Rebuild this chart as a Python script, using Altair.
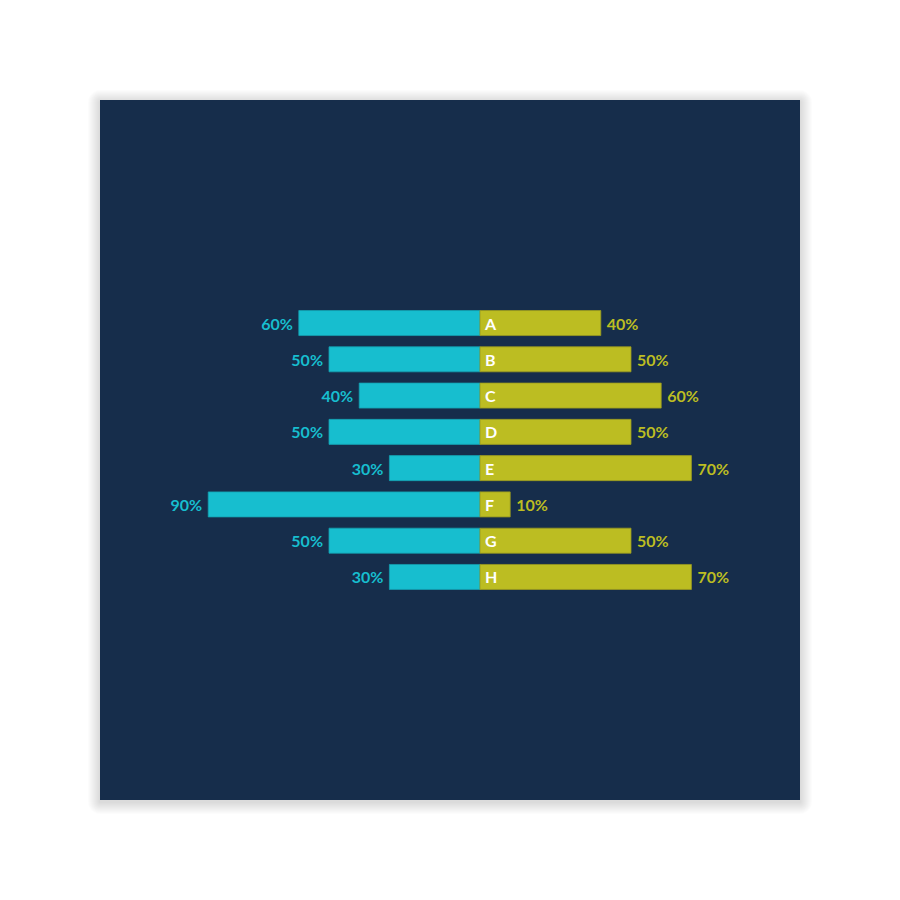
import altair as alt
import pandas as pd

categories = ["A", "B", "C", "D", "E", "F", "G", "H"]
left_values = [60, 50, 40, 50, 30, 90, 50, 30]
right_values = [40, 50, 60, 50, 70, 10, 50, 70]

df = pd.DataFrame({
    "cat": categories,
    "left": left_values,
    "right": right_values,
})
df["neg"] = -df["left"]
df["zero"] = 0
df["left_label"] = df["left"].astype(str) + "%"
df["right_label"] = df["right"].astype(str) + "%"

BG = "#162d4b"
CYAN = "#17becf"
OLIVE = "#bcbd22"
FONT = "Lato"
W = H = 700

xscale = alt.Scale(domain=[-125.83, 105.96], nice=False, zero=False)
yscale = alt.Scale(domain=categories, range=[204.9, 495.1], paddingInner=0.31, paddingOuter=0.155)

one = alt.Chart(pd.DataFrame({"a": [0]}))

# soft drop shadow around the panel
shadow_layers = []
for k in range(1, 13):
    shadow_layers.append(
        one.mark_rect(color="black", opacity=0.01, cornerRadius=k, clip=False).encode(
            x=alt.value(-k), x2=alt.value(W + k),
            y=alt.value(-k + 2), y2=alt.value(H + k + 2),
        )
    )
panel = one.mark_rect(color=BG, clip=False).encode(
    x=alt.value(0), x2=alt.value(W), y=alt.value(0), y2=alt.value(H)
)

base = alt.Chart(df)
y = alt.Y("cat:N", scale=yscale, axis=None)

left_bars = base.mark_bar(color=CYAN, stroke="#149fb0", strokeWidth=0.8).encode(
    x=alt.X("neg:Q", scale=xscale, axis=None),
    x2="zero:Q",
    y=y,
)
right_bars = base.mark_bar(color=OLIVE, stroke="#9a9b1f", strokeWidth=0.8).encode(
    x=alt.X("zero:Q", scale=xscale, axis=None),
    x2="right:Q",
    y=y,
)
left_text = base.mark_text(
    align="right", baseline="middle", dx=-6, dy=1.5, font=FONT, fontWeight="bold", fontSize=16, color=CYAN
).encode(
    x=alt.X("neg:Q", scale=xscale, axis=None),
    y=y,
    text="left_label:N",
)
right_text = base.mark_text(
    align="left", baseline="middle", dx=6, dy=1.5, font=FONT, fontWeight="bold", fontSize=16, color=OLIVE
).encode(
    x=alt.X("right:Q", scale=xscale, axis=None),
    y=y,
    text="right_label:N",
)
cat_text = base.mark_text(
    align="left", baseline="middle", dx=5, dy=1.5, font=FONT, fontWeight="bold", fontSize=16, color="white"
).encode(
    x=alt.X("zero:Q", scale=xscale, axis=None),
    y=y,
    text="cat:N",
)

chart = alt.layer(
    *shadow_layers, panel, left_bars, right_bars, left_text, right_text, cat_text
).properties(
    width=W,
    height=H,
    autosize=alt.AutoSizeParams(type="none"),
    padding={"left": 92, "top": 92, "right": 30, "bottom": 30},
    background="white",
).configure_view(
    fill=None, stroke=None
)

chart.save("out.html", embed_options={"renderer": "svg", "actions": False})
